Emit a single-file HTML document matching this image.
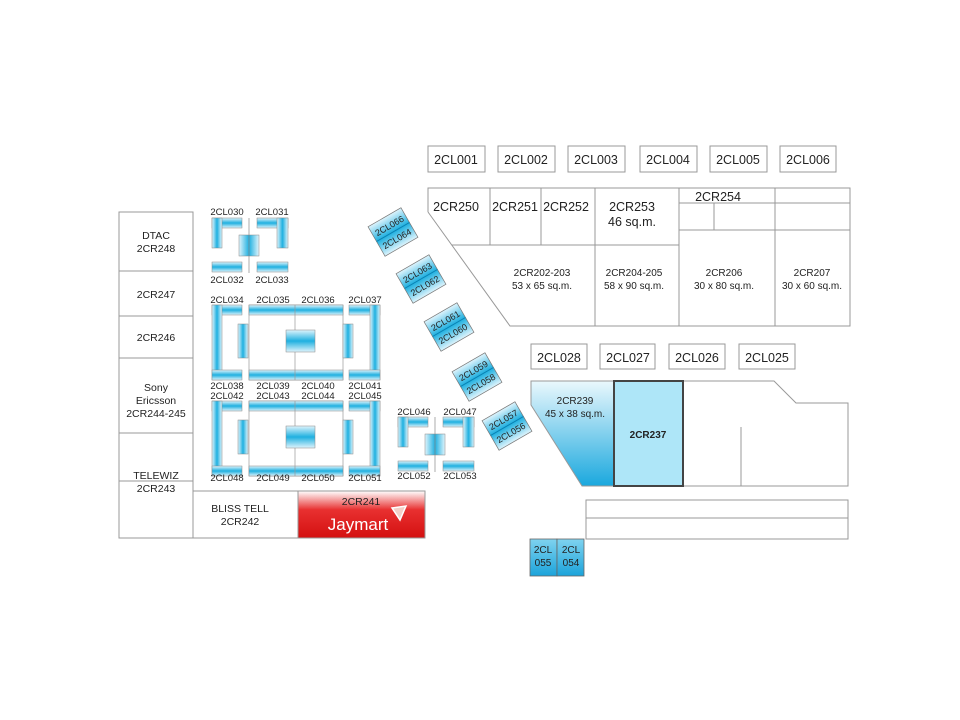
<!DOCTYPE html>
<html><head><meta charset="utf-8"><style>
html,body{margin:0;padding:0;background:#fff;}
svg{display:block;}
text{font-family:"Liberation Sans",sans-serif;fill:#222;}
</style></head><body>
<svg width="960" height="720" viewBox="0 0 960 720" xmlns="http://www.w3.org/2000/svg">
<defs>
<linearGradient id="gv" x1="0" y1="0" x2="1" y2="0">
<stop offset="0" stop-color="#dff4fc"/><stop offset="0.5" stop-color="#1fb0e0"/><stop offset="1" stop-color="#dff4fc"/></linearGradient>
<linearGradient id="gh" x1="0" y1="0" x2="0" y2="1">
<stop offset="0" stop-color="#dff4fc"/><stop offset="0.5" stop-color="#1fb0e0"/><stop offset="1" stop-color="#dff4fc"/></linearGradient>
<linearGradient id="g239" x1="0" y1="0" x2="0" y2="1">
<stop offset="0" stop-color="#eaf8fd"/><stop offset="1" stop-color="#1aa8de"/></linearGradient>
<linearGradient id="gblue" x1="0" y1="0" x2="0" y2="1">
<stop offset="0" stop-color="#7fd3f0"/><stop offset="1" stop-color="#1ba3da"/></linearGradient>
<linearGradient id="gred" x1="0" y1="0" x2="0" y2="1">
<stop offset="0" stop-color="#fff"/><stop offset="0.4" stop-color="#e83030"/><stop offset="1" stop-color="#d41010"/></linearGradient>
<g id="boothGroup">
<rect x="0" y="0" width="30" height="10" fill="url(#gh)" stroke="#888" stroke-width="0.5"/>
<rect x="0" y="0" width="10" height="75" fill="url(#gv)" stroke="#888" stroke-width="0.5"/>
<rect x="0" y="65" width="30" height="10" fill="url(#gh)" stroke="#888" stroke-width="0.5"/>
<rect x="26" y="19" width="10" height="34" fill="url(#gv)" stroke="#888" stroke-width="0.5"/>
<rect x="37" y="0" width="94" height="75" fill="#fff" stroke="#999" stroke-width="0.7"/>
<rect x="37" y="0" width="94" height="10" fill="url(#gh)" stroke="#888" stroke-width="0.5"/>
<rect x="37" y="65" width="94" height="10" fill="url(#gh)" stroke="#888" stroke-width="0.5"/>
<line x1="83" y1="0" x2="83" y2="75" stroke="#999" stroke-width="0.7"/>
<rect x="74" y="25" width="29" height="22" fill="url(#gh)" stroke="#888" stroke-width="0.5"/>
<rect x="131" y="19" width="10" height="34" fill="url(#gv)" stroke="#888" stroke-width="0.5"/>
<rect x="137" y="0" width="31" height="10" fill="url(#gh)" stroke="#888" stroke-width="0.5"/>
<rect x="158" y="0" width="10" height="75" fill="url(#gv)" stroke="#888" stroke-width="0.5"/>
<rect x="137" y="65" width="31" height="10" fill="url(#gh)" stroke="#888" stroke-width="0.5"/>
</g>
<g id="small">
<rect x="0" y="0" width="30" height="10" fill="url(#gh)" stroke="#888" stroke-width="0.5"/>
<rect x="0" y="0" width="10" height="30" fill="url(#gv)" stroke="#888" stroke-width="0.5"/>
<rect x="45" y="0" width="31" height="10" fill="url(#gh)" stroke="#888" stroke-width="0.5"/>
<rect x="65" y="0" width="11" height="30" fill="url(#gv)" stroke="#888" stroke-width="0.5"/>
<rect x="27" y="17" width="20" height="21" fill="url(#gv)" stroke="#888" stroke-width="0.5"/>
<line x1="37" y1="0" x2="37" y2="55" stroke="#888" stroke-width="0.7"/>
<rect x="0" y="44" width="30" height="10" fill="url(#gh)" stroke="#888" stroke-width="0.5"/>
<rect x="45" y="44" width="31" height="10" fill="url(#gh)" stroke="#888" stroke-width="0.5"/>
</g>
<g id="pair">
<rect x="-19" y="-17" width="38" height="34" fill="url(#gh)" stroke="#777" stroke-width="0.7"/>
<line x1="-19" y1="0" x2="19" y2="0" stroke="#0a7fb0" stroke-width="1"/>
</g>
</defs>
<g fill="none" stroke="#999" stroke-width="1">
<!-- top CL boxes -->
<rect x="428" y="146" width="57" height="26"/><rect x="498" y="146" width="57" height="26"/>
<rect x="568" y="146" width="57" height="26"/><rect x="640" y="146" width="57" height="26"/>
<rect x="710" y="146" width="57" height="26"/><rect x="780" y="146" width="56" height="26"/>
<!-- upper stores -->
<polyline points="428,212 428,188 850,188 850,326 510,326 428,212"/>
<line x1="452" y1="245" x2="679" y2="245"/>
<line x1="490" y1="188" x2="490" y2="245"/><line x1="541" y1="188" x2="541" y2="245"/>
<line x1="595" y1="188" x2="595" y2="326"/><line x1="679" y1="188" x2="679" y2="326"/>
<line x1="775" y1="188" x2="775" y2="326"/>
<line x1="679" y1="203" x2="850" y2="203"/><line x1="679" y1="230" x2="850" y2="230"/>
<line x1="714" y1="203" x2="714" y2="230"/>
<!-- mid CL -->
<rect x="531" y="344" width="56" height="25"/><rect x="600" y="344" width="55" height="25"/>
<rect x="669" y="344" width="56" height="25"/><rect x="739" y="344" width="56" height="25"/>
<!-- right region -->
<polyline points="683,381 774,381 796,403 848,403 848,486 683,486"/>
<line x1="741" y1="427" x2="741" y2="486"/>
<rect x="586" y="500" width="262" height="18"/><rect x="586" y="518" width="262" height="21"/>
<!-- left column -->
<rect x="119" y="212" width="74" height="326"/>
<line x1="119" y1="271" x2="193" y2="271"/><line x1="119" y1="316" x2="193" y2="316"/>
<line x1="119" y1="358" x2="193" y2="358"/><line x1="119" y1="433" x2="193" y2="433"/>
<line x1="119" y1="481" x2="193" y2="481"/>
<rect x="193" y="491" width="105" height="47"/>
</g>
<polygon points="531,381 614,381 614,486 582,486 531,405" fill="url(#g239)" stroke="#999"/>
<rect x="614" y="381" width="69" height="105" fill="#aee6f8" stroke="#444" stroke-width="2"/>
<rect x="298" y="491" width="127" height="47" fill="url(#gred)" stroke="#999"/>
<g fill="url(#gblue)" stroke="#666" stroke-width="0.8"><rect x="530" y="539" width="27" height="37"/><rect x="557" y="539" width="27" height="37"/></g>
<!-- booths -->
<use href="#boothGroup" x="212" y="305"/>
<use href="#boothGroup" x="212" y="401"/>
<use href="#small" x="212" y="218"/>
<use href="#small" x="398" y="417"/>
<g transform="translate(393,232) rotate(-30)"><use href="#pair"/><text x="0" y="-4" font-size="9" text-anchor="middle">2CL066</text><text x="0" y="11" font-size="9" text-anchor="middle">2CL064</text></g>
<g transform="translate(421,279) rotate(-30)"><use href="#pair"/><text x="0" y="-4" font-size="9" text-anchor="middle">2CL063</text><text x="0" y="11" font-size="9" text-anchor="middle">2CL062</text></g>
<g transform="translate(449,327) rotate(-30)"><use href="#pair"/><text x="0" y="-4" font-size="9" text-anchor="middle">2CL061</text><text x="0" y="11" font-size="9" text-anchor="middle">2CL060</text></g>
<g transform="translate(477,377) rotate(-30)"><use href="#pair"/><text x="0" y="-4" font-size="9" text-anchor="middle">2CL059</text><text x="0" y="11" font-size="9" text-anchor="middle">2CL058</text></g>
<g transform="translate(507,426) rotate(-30)"><use href="#pair"/><text x="0" y="-4" font-size="9" text-anchor="middle">2CL057</text><text x="0" y="11" font-size="9" text-anchor="middle">2CL056</text></g>
<!-- labels -->
<g font-size="12.5" text-anchor="middle">
<text x="456" y="164">2CL001</text><text x="526" y="164">2CL002</text><text x="596" y="164">2CL003</text>
<text x="668" y="164">2CL004</text><text x="738" y="164">2CL005</text><text x="808" y="164">2CL006</text>
<text x="456" y="211">2CR250</text><text x="515" y="211">2CR251</text><text x="566" y="211">2CR252</text>
<text x="632" y="211">2CR253</text><text x="632" y="226">46 sq.m.</text>
<text x="718" y="201">2CR254</text>
<text x="559" y="362">2CL028</text><text x="628" y="362">2CL027</text><text x="697" y="362">2CL026</text><text x="767" y="362">2CL025</text>
</g>
<g font-size="10" text-anchor="middle">
<text x="542" y="276">2CR202-203</text><text x="542" y="289">53 x 65 sq.m.</text>
<text x="634" y="276">2CR204-205</text><text x="634" y="289">58 x 90 sq.m.</text>
<text x="724" y="276">2CR206</text><text x="724" y="289">30 x 80 sq.m.</text>
<text x="812" y="276">2CR207</text><text x="812" y="289">30 x 60 sq.m.</text>
<text x="575" y="404">2CR239</text><text x="575" y="417">45 x 38 sq.m.</text>
<text x="648" y="438" font-weight="bold" fill="#333">2CR237</text>
<text x="543" y="553">2CL</text><text x="543" y="566">055</text>
<text x="571" y="553">2CL</text><text x="571" y="566">054</text>
</g>
<g font-size="10.5" text-anchor="middle">
<text x="156" y="239">DTAC</text><text x="156" y="252">2CR248</text>
<text x="156" y="298">2CR247</text><text x="156" y="341">2CR246</text>
<text x="156" y="391">Sony</text><text x="156" y="404">Ericsson</text><text x="156" y="417">2CR244-245</text>
<text x="156" y="479">TELEWIZ</text><text x="156" y="492">2CR243</text>
<text x="240" y="512">BLISS TELL</text><text x="240" y="525">2CR242</text>
<text x="361" y="505" fill="#333">2CR241</text>
</g>
<text x="358" y="530" font-size="17" text-anchor="middle" style="fill:#fff">Jaymart</text>
<polygon points="392,508 406,506 400,520" fill="#f2d0c8" stroke="#fff" stroke-width="1.5"/>
<g font-size="9.5" text-anchor="middle">
<text x="227" y="215">2CL030</text><text x="272" y="215">2CL031</text>
<text x="227" y="283">2CL032</text><text x="272" y="283">2CL033</text>
<text x="227" y="303">2CL034</text><text x="273" y="303">2CL035</text><text x="318" y="303">2CL036</text><text x="365" y="303">2CL037</text>
<text x="227" y="389">2CL038</text><text x="273" y="389">2CL039</text><text x="318" y="389">2CL040</text><text x="365" y="389">2CL041</text>
<text x="227" y="399">2CL042</text><text x="273" y="399">2CL043</text><text x="318" y="399">2CL044</text><text x="365" y="399">2CL045</text>
<text x="227" y="481">2CL048</text><text x="273" y="481">2CL049</text><text x="318" y="481">2CL050</text><text x="365" y="481">2CL051</text>
<text x="414" y="415">2CL046</text><text x="460" y="415">2CL047</text>
<text x="414" y="479">2CL052</text><text x="460" y="479">2CL053</text>
</g>
</svg>
</body></html>
